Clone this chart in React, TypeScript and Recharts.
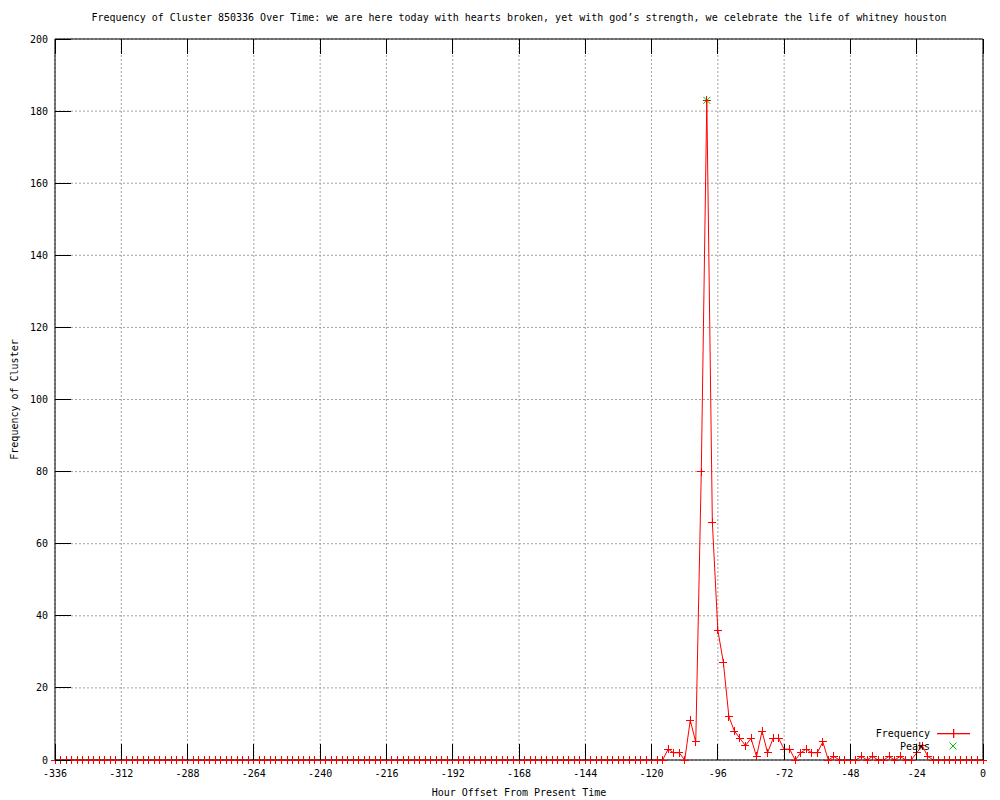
import React from 'react';
import { ComposedChart, Line, Scatter, XAxis, YAxis, CartesianGrid, Legend, Label } from 'recharts';

// hour offsets, one sample every 2 hours
const hours = [
  -336, -334, -332, -330, -328, -326, -324, -322, -320, -318, -316, -314,
  -312, -310, -308, -306, -304, -302, -300, -298, -296, -294, -292, -290,
  -288, -286, -284, -282, -280, -278, -276, -274, -272, -270, -268, -266,
  -264, -262, -260, -258, -256, -254, -252, -250, -248, -246, -244, -242,
  -240, -238, -236, -234, -232, -230, -228, -226, -224, -222, -220, -218,
  -216, -214, -212, -210, -208, -206, -204, -202, -200, -198, -196, -194,
  -192, -190, -188, -186, -184, -182, -180, -178, -176, -174, -172, -170,
  -168, -166, -164, -162, -160, -158, -156, -154, -152, -150, -148, -146,
  -144, -142, -140, -138, -136, -134, -132, -130, -128, -126, -124, -122,
  -120, -118, -116, -114, -112, -110, -108, -106, -104, -102, -100, -98,
  -96, -94, -92, -90, -88, -86, -84, -82, -80, -78, -76, -74,
  -72, -70, -68, -66, -64, -62, -60, -58, -56, -54, -52, -50,
  -48, -46, -44, -42, -40, -38, -36, -34, -32, -30, -28, -26,
  -24, -22, -20, -18, -16, -14, -12, -10, -8, -6, -4, -2,
  0,
];

const counts = [
  0, 0, 0, 0, 0, 0, 0, 0, 0, 0, 0, 0,
  0, 0, 0, 0, 0, 0, 0, 0, 0, 0, 0, 0,
  0, 0, 0, 0, 0, 0, 0, 0, 0, 0, 0, 0,
  0, 0, 0, 0, 0, 0, 0, 0, 0, 0, 0, 0,
  0, 0, 0, 0, 0, 0, 0, 0, 0, 0, 0, 0,
  0, 0, 0, 0, 0, 0, 0, 0, 0, 0, 0, 0,
  0, 0, 0, 0, 0, 0, 0, 0, 0, 0, 0, 0,
  0, 0, 0, 0, 0, 0, 0, 0, 0, 0, 0, 0,
  0, 0, 0, 0, 0, 0, 0, 0, 0, 0, 0, 0,
  0, 0, 0, 3, 2, 2, 0, 11, 5, 80, 183, 66,
  36, 27, 12, 8, 6, 4, 6, 1, 8, 2, 6, 6,
  3, 3, 0, 2, 3, 2, 2, 5, 0, 1, 0, 0,
  0, 0, 1, 0, 1, 0, 0, 1, 0, 1, 0, 0,
  2, 4, 1, 0, 0, 0, 0, 0, 0, 0, 0, 0,
  0,
];

const peakHours = [-100];
const peakCounts = [183];

const xTicks = [-336, -312, -288, -264, -240, -216, -192, -168, -144, -120, -96, -72, -48, -24, 0];
const yTicks = [0, 20, 40, 60, 80, 100, 120, 140, 160, 180, 200];

const TITLE = 'Frequency of Cluster 850336 Over Time: we are here today with hearts broken, yet with god\u2019s strength, we celebrate the life of whitney houston';

const FONT = '"DejaVu Sans Mono", monospace';
const RED = '#ff0000';
const GREEN = '#00c000';

const chartData = hours.map((h, i) => ({ hour: h, count: counts[i] }));
const peakData = peakHours.map((h, i) => ({ hour: h, peak: peakCounts[i] }));

const PlusDot = (props: any) => {
  const { cx, cy, index } = props;
  if (cx == null || cy == null) return <g key={index} />;
  return (
    <g key={index}>
      <line x1={cx - 4} x2={cx + 4} y1={cy} y2={cy} stroke={RED} shapeRendering="crispEdges" />
      <line x1={cx} x2={cx} y1={cy - 4} y2={cy + 4} stroke={RED} shapeRendering="crispEdges" />
    </g>
  );
};

const CrossShape = (props: any) => {
  const { cx, cy } = props;
  return (
    <g>
      <line x1={cx - 3.5} x2={cx + 3.5} y1={cy - 3.5} y2={cy + 3.5} stroke={GREEN} />
      <line x1={cx - 3.5} x2={cx + 3.5} y1={cy + 3.5} y2={cy - 3.5} stroke={GREEN} />
    </g>
  );
};

const BottomTick = ({ x, y, payload }: any) => (
  <g>
    <line x1={x} x2={x} y1={y} y2={y - 16} stroke="#000" shapeRendering="crispEdges" />
    <text x={x} y={y + 17} textAnchor="middle" fontFamily={FONT} fontSize={10} fill="#000">
      {payload.value}
    </text>
  </g>
);

const TopTick = ({ x, y }: any) => (
  <line x1={x} x2={x} y1={y} y2={y + 15} stroke="#000" shapeRendering="crispEdges" />
);

const LeftTick = ({ x, y, payload }: any) => (
  <g>
    <line x1={x} x2={x + 16} y1={y} y2={y} stroke="#000" shapeRendering="crispEdges" />
    <text x={x - 7} y={y + 3.5} textAnchor="end" fontFamily={FONT} fontSize={10} fill="#000">
      {payload.value}
    </text>
  </g>
);

const RightTick = ({ x, y }: any) => (
  <line x1={x} x2={x - 16} y1={y} y2={y} stroke="#000" shapeRendering="crispEdges" />
);

const LegendBox = () => (
  <svg width={110} height={28} style={{ display: 'block' }}>
    <text x={60} y={10.5} textAnchor="end" fontFamily={FONT} fontSize={10} fill="#000">Frequency</text>
    <rect x={67} y={7} width={33} height={1.3} fill={RED} />
    <rect x={83} y={3} width={1.3} height={9} fill={RED} />
    <text x={60} y={24} textAnchor="end" fontFamily={FONT} fontSize={10} fill="#000">Peaks</text>
    <line x1={79.5} x2={86.5} y1={16.5} y2={23.5} stroke={GREEN} />
    <line x1={79.5} x2={86.5} y1={23.5} y2={16.5} stroke={GREEN} />
  </svg>
);

export default function App() {
  return (
    <div style={{ position: 'absolute', left: 0, top: 0, width: 1000, height: 800, background: '#fff' }}>
      <ComposedChart width={1000} height={800} data={chartData} margin={{ top: 0, right: 0, bottom: 0, left: 0 }}>
        <CartesianGrid stroke="#a0a0a0" strokeDasharray="2 2" />
        <XAxis
          dataKey="hour"
          type="number"
          domain={[-336, 0]}
          ticks={xTicks}
          interval={0}
          height={40}
          tickSize={0}
          tickMargin={0}
          tickLine={false}
          axisLine={{ stroke: '#000' }}
          tick={BottomTick}
        >
          <Label
            content={({ viewBox }: any) => (
              <text x={viewBox.x + viewBox.width / 2} y={viewBox.y + 36} textAnchor="middle" fontFamily={FONT} fontSize={10} fill="#000">
                Hour Offset From Present Time
              </text>
            )}
          />
        </XAxis>
        <XAxis
          xAxisId="top"
          orientation="top"
          dataKey="hour"
          type="number"
          domain={[-336, 0]}
          ticks={xTicks}
          interval={0}
          height={39}
          tickSize={0}
          tickMargin={0}
          tickLine={false}
          axisLine={{ stroke: '#000' }}
          tick={TopTick}
        >
          <Label
            content={({ viewBox }: any) => (
              <text x={viewBox.x + viewBox.width / 2} y={viewBox.y + 21} textAnchor="middle" fontFamily={FONT} fontSize={10} fill="#000">
                {TITLE}
              </text>
            )}
          />
        </XAxis>
        <YAxis
          type="number"
          domain={[0, 200]}
          ticks={yTicks}
          interval={0}
          width={55}
          tickSize={0}
          tickMargin={0}
          tickLine={false}
          axisLine={{ stroke: '#000' }}
          tick={LeftTick}
        >
          <Label
            content={({ viewBox }: any) => {
              const cx = viewBox.x + 17.5;
              const cy = viewBox.y + viewBox.height / 2;
              return (
                <text x={cx} y={cy} transform={`rotate(-90 ${cx} ${cy})`} textAnchor="middle" fontFamily={FONT} fontSize={10} fill="#000">
                  Frequency of Cluster
                </text>
              );
            }}
          />
        </YAxis>
        <YAxis
          yAxisId="right"
          orientation="right"
          type="number"
          domain={[0, 200]}
          ticks={yTicks}
          interval={0}
          width={17}
          tickSize={0}
          tickMargin={0}
          tickLine={false}
          axisLine={{ stroke: '#000' }}
          tick={RightTick}
        />
        <Legend
          layout="vertical"
          align="center"
          verticalAlign="middle"
          content={LegendBox}
          wrapperStyle={{ left: 870, top: 726, width: 110, height: 28 }}
        />
        <Scatter data={peakData} dataKey="peak" shape={CrossShape} isAnimationActive={false} />
        <Line
          dataKey="count"
          type="linear"
          stroke={RED}
          strokeWidth={1}
          dot={PlusDot}
          activeDot={false}
          isAnimationActive={false}
        />
      </ComposedChart>
    </div>
  );
}
